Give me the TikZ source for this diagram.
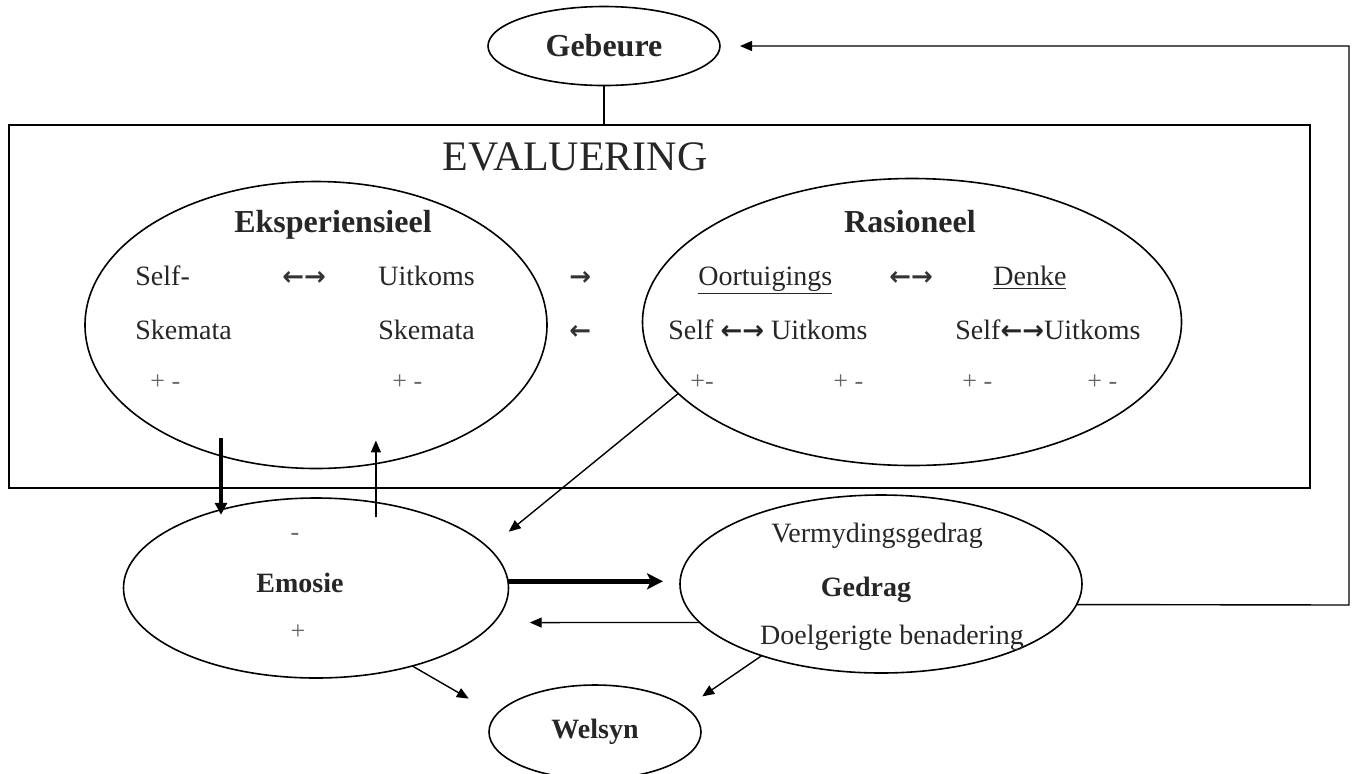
\documentclass[tikz,border=0pt]{standalone}
\usepackage{fontspec}
\setmainfont{Liberation Serif}
\newfontfamily\pijlfont{DejaVu Sans}
\usetikzlibrary{shapes.geometric,arrows.meta}

\begin{document}
\begin{tikzpicture}[x=0.5pt,y=-0.5pt,
    ovaal/.style={draw, ellipse, line width=0.8pt, inner sep=0pt, outer sep=0pt},
    teks/.style={inner sep=0pt, anchor=base west, font=\fontsize{14}{16}\selectfont, text=black!85},
    kop/.style={inner sep=0pt, anchor=base, font=\fontsize{16}{18}\selectfont\bfseries, text=black!85},
    teken/.style={inner sep=0pt, anchor=base west, font=\fontsize{13}{15}\selectfont, text=black!60},
    pyl/.style={inner sep=0pt, anchor=base west, font=\pijlfont\bfseries\fontsize{13}{15}\selectfont, text=black!80},
    dun/.style={line width=0.7pt, -{Triangle[length=6pt,width=5pt]}},
    dik/.style={line width=2.2pt, -{Triangle[length=6pt,width=6pt]}},
    swaar/.style={line width=2.2pt, -{Stealth[length=8pt,width=8pt,inset=2pt]}}]
    % \clip (0,0) rectangle (1356,773);
    \useasboundingbox (0,0) rectangle (1356,773);

    % Drawing ellipse Gebeure
    \node [ovaal, minimum width=116pt, minimum height=39.5pt,
           font=\fontsize{16}{18}\selectfont\bfseries, text=black!85] (gebeure) at (604,46) {Gebeure};

    % Drawing box Evaluering
    \node [draw, line width=0.9pt, minimum width=650.5pt, minimum height=181.5pt,
           inner sep=0pt, outer sep=0pt] (evalbox) at (659.5,306.5) {};
    \node [inner sep=0pt, font=\fontsize{21}{24}\selectfont, text=black!85] (evaltitel) at (575,157) {EVALUERING};

    % Drawing ellipses inside the box
    \node [ovaal, minimum width=231pt, minimum height=143.5pt] (eksp) at (316,325) {};
    \node [ovaal, minimum width=269.5pt, minimum height=143.5pt] (rasio) at (912,322) {};

    % Marking texts of Eksperiensieel
    \node [kop] (ekspkop) at (333,232) {Eksperiensieel};
    \node [teks] (selfa) at (135,285) {Self-};
    \node [pyl] (ekspheen) at (282,285) {←→};
    \node [teks] (uitkomsa) at (378,285) {Uitkoms};
    \node [teks] (skemataa) at (135,339) {Skemata};
    \node [teks] (skematab) at (378,339) {Skemata};
    \node [teken] (tekena) at (150,389) {+ -};
    \node [teken] (tekenb) at (392,389) {+ -};

    % Marking arrows between the ellipses
    \node [pyl] (heen) at (569,285) {→};
    \node [pyl] (terug) at (569,339) {←};

    % Marking texts of Rasioneel
    \node [kop] (rasiokop) at (910,232) {Rasioneel};
    \node [teks] (oortuig) at (698,285) {\underline{Oortuigings}};
    \node [pyl] (rasioheen) at (889,285) {←→};
    \node [teks] (denke) at (993,285) {\underline{Denke}};
    \node [teks] (selfb) at (668,339) {Self {\pijlfont\bfseries\fontsize{13}{15}\selectfont ←→} Uitkoms};
    \node [teks] (selfc) at (955,339) {Self{\pijlfont\bfseries\fontsize{13}{15}\selectfont ←→}Uitkoms};
    \node [teken] (tekenc) at (690,389) {+-};
    \node [teken] (tekend) at (833,389) {+ -};
    \node [teken] (tekene) at (962,389) {+ -};
    \node [teken] (tekenf) at (1087,389) {+ -};

    % Drawing ellipse Emosie
    \node [ovaal, minimum width=192.5pt, minimum height=90pt] (emosie) at (316,588) {};
    \node [teken, anchor=base] (emosiemin) at (295,540) {-};
    \node [kop, font=\fontsize{14}{16}\selectfont\bfseries] (emosiekop) at (300,592) {Emosie};
    \node [teken, anchor=base] (emosieplus) at (298,639) {+};

    % Drawing ellipse Gedrag
    \node [ovaal, minimum width=201pt, minimum height=89pt] (gedrag) at (881,584) {};
    \node [teks, anchor=base] (vermyding) at (877,542) {Vermydingsgedrag};
    \node [kop, font=\fontsize{14}{16}\selectfont\bfseries] (gedragkop) at (866,596) {Gedrag};
    \node [teks, anchor=base] (doelgerig) at (892,644) {Doelgerigte benadering};

    % Drawing ellipse Welsyn
    \node [ovaal, minimum width=106pt, minimum height=47pt,
           font=\fontsize{14}{16}\selectfont\bfseries, text=black!85] (welsyn) at (595,732) {Welsyn};

    % Drawing segment Gebeure Evaluering
    \draw [line width=0.8pt] (gebeure.south) -- (gebeure.south |- evalbox.north);

    % Drawing arrows Eksperiensieel Emosie
    \draw [dik] ([yshift=9pt]eksp.234) -- ++(0,77);
    \draw [dun] ([yshift=-7.5pt]emosie.55) -- ++(0,-77);

    % Drawing arrow Rasioneel Emosie
    \draw [dun, shorten >=13pt] (rasio.197) -- (emosie.13);

    % Drawing arrows Emosie Gedrag
    \draw [swaar, shorten >=8.5pt] (emosie.2) -- (emosie.2 -| gedrag.west);
    \draw [dun, shorten >=18pt] (gedrag.192) -- (emosie.-11);

    % Drawing arrows to Welsyn
    \draw [dun, shorten >=16pt] (emosie.-39) -- (welsyn.170);
    \draw [dun, shorten >=10pt] (gedrag.211) -- (welsyn.15);

    % Drawing feedback Gedrag Gebeure
    \coordinate (terugvoer) at (1349,605);
    \draw [dun] (gedrag.-6) -- (terugvoer) |- ([xshift=10pt]gebeure.east);
\end{tikzpicture}
\end{document}
